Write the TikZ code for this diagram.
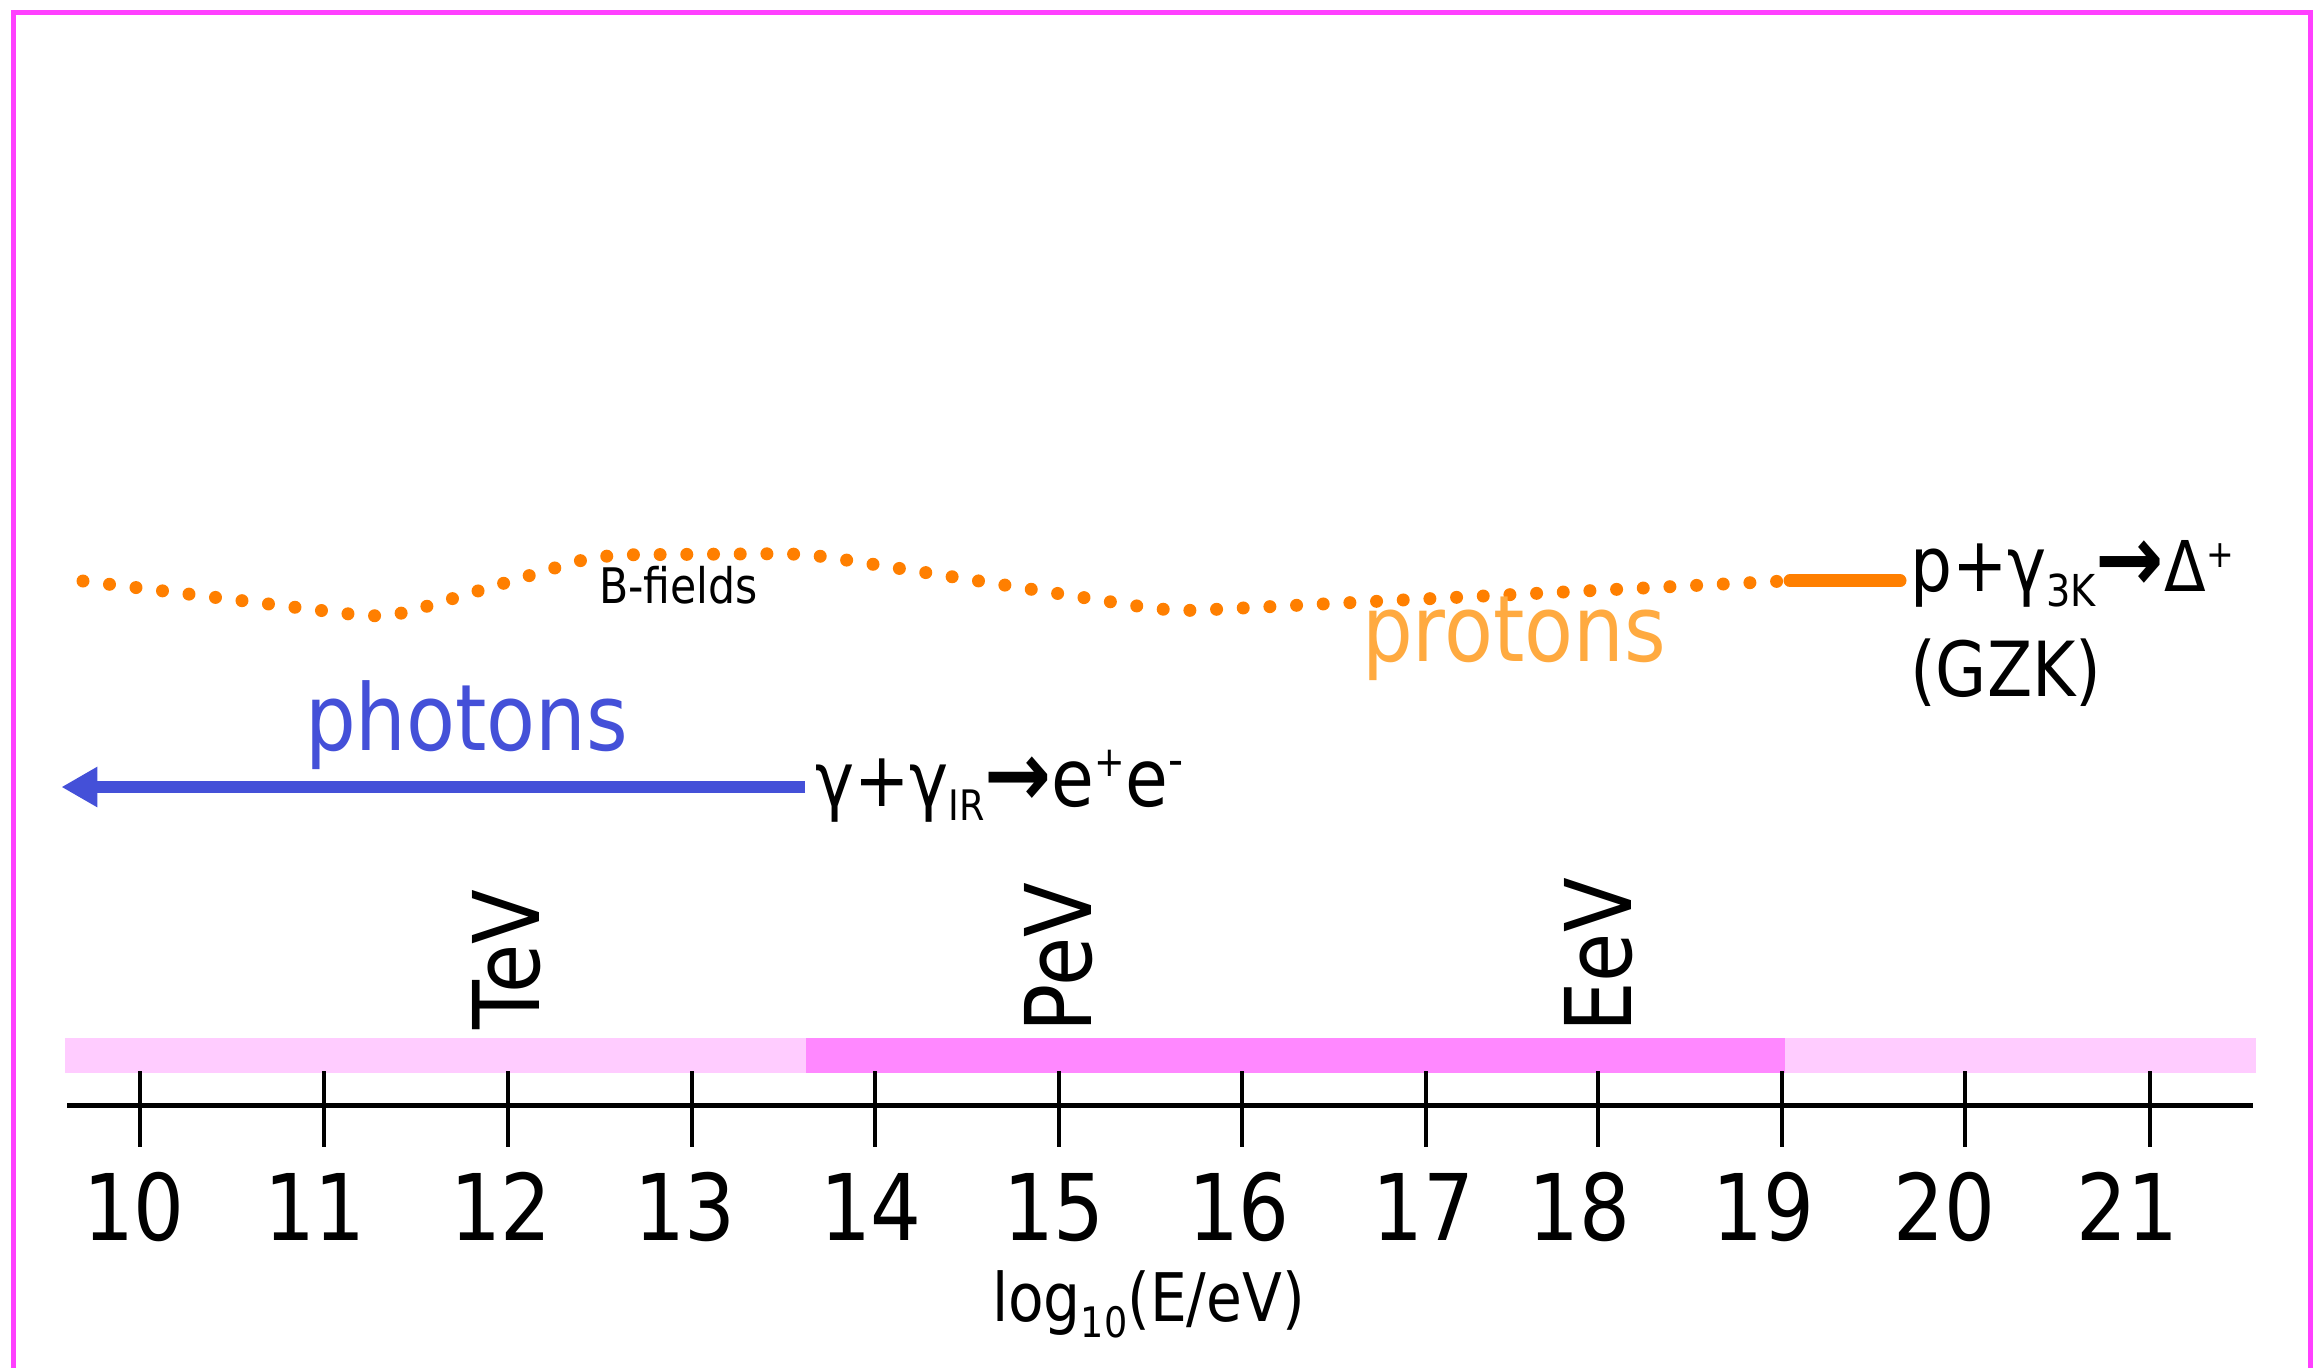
\documentclass[tikz,border=0pt]{standalone}
\usepackage{fontspec}
\setmainfont[FakeStretch=0.87]{DejaVu Sans}
\newfontfamily\boldsym[FakeStretch=0.87]{DejaVu Sans Bold}
\usetikzlibrary{arrows.meta}
\definecolor{framecol}{RGB}{255,64,255}
\definecolor{dotcol}{RGB}{255,127,0}
\definecolor{protcol}{RGB}{255,170,64}
\definecolor{photcol}{RGB}{68,80,216}
\definecolor{barlight}{RGB}{255,204,255}
\definecolor{bardark}{RGB}{255,136,255}
\newcommand\fsz[1]{\fontsize{#1}{#1}\selectfont}
\begin{document}
\begin{tikzpicture}[x=0.5pt,y=-0.5pt,
  every node/.style={inner sep=0pt,outer sep=0pt},
  frameline/.style={draw=framecol,line width=2.5pt},
  dotcurve/.style={draw=dotcol,line width=6.5pt,line cap=round,dash pattern=on 0pt off 13.35pt},
  solidorange/.style={draw=dotcol,line width=6.5pt,line cap=round},
  photarrow/.style={draw=photcol,line width=6pt,-{Triangle[length=18pt,width=19pt]}},
  axisline/.style={draw=black,line width=2.5pt},
  tickline/.style={draw=black,line width=2pt},
  ticklabel/.style={anchor=base,font=\fsz{46}},
  unitlabel/.style={rotate=90,font=\fsz{46}},
  bigword/.style={anchor=base west,font=\fsz{46}},
  reaction/.style={anchor=base west,font=\fsz{38}}
]
\useasboundingbox (0,0) rectangle (2317,1367);
\begin{scope}
\clip (0,0) rectangle (2317,1367);
\draw[frameline] (13,1400) -- (13,12) -- (2310,12) -- (2310,1400);
\end{scope}

% energy bands
\fill[barlight] (65,1038) rectangle (806,1073);
\fill[bardark] (806,1038) rectangle (1785,1073);
\fill[barlight] (1785,1038) rectangle (2256,1073);

% axis
\coordinate (axL) at (67,1105.5);
\coordinate (axR) at (2253,1105.5);
\draw[axisline] (axL) -- (axR);
\foreach \x in {140,324,507.5,692,875,1058.5,1242,1426,1598,1782,1965,2149.6}
  \draw[tickline] (\x,1071) -- (\x,1147);

\node[ticklabel] (t10) at (134,1240) {10};
\node[ticklabel] (t11) at (315,1240) {11};
\node[ticklabel] (t12) at (501,1240) {12};
\node[ticklabel] (t13) at (685,1240) {13};
\node[ticklabel] (t14) at (871,1240) {14};
\node[ticklabel] (t15) at (1054,1240) {15};
\node[ticklabel] (t16) at (1239,1240) {16};
\node[ticklabel] (t17) at (1423.5,1240) {17};
\node[ticklabel] (t18) at (1579,1240) {18};
\node[ticklabel] (t19) at (1763,1240) {19};
\node[ticklabel] (t20) at (1944.5,1240) {20};
\node[ticklabel] (t21) at (2127,1240) {21};

\node[anchor=base west,font=\fsz{33.5}] (axlabel) at (992,1321.7)
  {log\raisebox{-8pt}{\fsz{21}10}(E/eV)};

% unit labels
\node[unitlabel] (tev) at (507,959.5) {TeV};
\node[unitlabel] (pev) at (1058.5,957.5) {PeV};
\node[unitlabel] (eev) at (1599,955.5) {EeV};

% protons dotted track
\draw[dotcurve,rounded corners=14pt] (83,581) -- (386,618.5) -- (598,555) -- (805,553.5) -- (1172,611.5) -- (1790,580.7);
\coordinate (gzkA) at (1790,580.7);
\coordinate (gzkB) at (1900,580.7);
\draw[solidorange] (gzkA) -- (gzkB);

\node[anchor=base west,font=\fsz{24.5}] (bfields) at (599,603.3) {B-fields};
\node[bigword,text=protcol] (protons) at (1362,661.7) {protons};

\node[reaction] (gzk1) at (1910,591.7)
  {p+γ\raisebox{-7.5pt}{\fsz{22}3K}{\boldsym\fsz{47}→}{\fsz{35}Δ}\raisebox{12pt}{\fsz{19}+}};
\node[reaction] (gzk2) at (1910,696.7) {(GZK)};

% photons
\node[bigword,text=photcol] (photons) at (305,750) {photons};
\coordinate (phA) at (805,787);
\coordinate (phB) at (61.4,787);
\draw[photarrow] (phA) -- (phB);
\node[reaction] (pair) at (815,806)
  {γ+γ\raisebox{-7pt}{\fsz{21}IR}{\boldsym\fsz{46}→}{\fsz{40}e\raisebox{15pt}{\fsz{21}+}e\raisebox{15pt}{\fsz{24}-}}};
\end{tikzpicture}
\end{document}
